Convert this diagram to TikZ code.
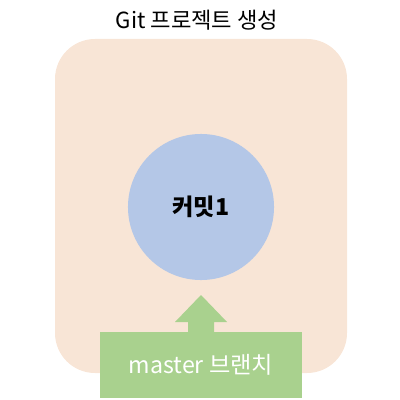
\documentclass[tikz,border=0pt]{standalone}
\usepackage{fontspec}
\setmainfont{Noto Sans CJK KR}
\usepackage{xcolor}
\usepackage{tikz}
\usetikzlibrary{positioning}

\definecolor{projbg}{RGB}{248,229,214}
\definecolor{commitblue}{RGB}{180,199,231}
\definecolor{branchgreen}{RGB}{169,209,142}

\begin{document}
\begin{tikzpicture}[x=0.025cm, y=-0.025cm, every node/.style={font=\fontsize{16.5}{20}\selectfont}]
\useasboundingbox (0,0) rectangle (400,400);
\node[font=\fontsize{15.8}{19}\selectfont] (title) at (197,20) {Git 프로젝트 생성};
\fill[projbg, rounded corners=1cm] (55,39) rectangle (347,373);
\node[circle, fill=commitblue, minimum size=3.65cm, font=\fontsize{16.5}{20}\selectfont\bfseries] (c1) at (201,207) {커밋1};
\node[fill=branchgreen, minimum width=5.05cm, minimum height=1.65cm, text=white, anchor=north] (master) at (201,332) {master 브랜치};
\fill[branchgreen] (master.north) ++(-13,1) -- ++(0,-11) -- ++(-13,0) -- ++(26,-27) -- ++(26,27) -- ++(-13,0) -- ++(0,11) -- cycle;
\end{tikzpicture}
\end{document}
